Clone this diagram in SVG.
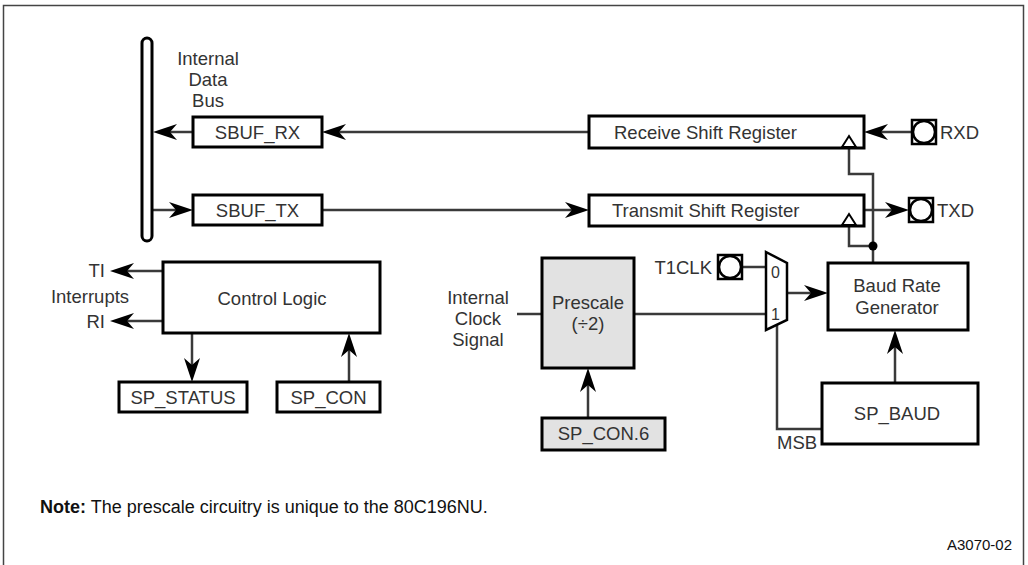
<svg xmlns="http://www.w3.org/2000/svg" width="1028" height="565" viewBox="0 0 1028 565">
<style>
text{font-family:"Liberation Sans",Arial,sans-serif;font-size:18.5px;fill:#333}
.c{text-anchor:middle}
.e{text-anchor:end}
.box{fill:#fff;stroke:#000;stroke-width:3}
.gray{fill:#e2e2e2;stroke:#000;stroke-width:3}
.ln{fill:none;stroke:#3a3a3a;stroke-width:2.5}
.ar{fill:none;stroke:#3a3a3a;stroke-width:2.5;marker-end:url(#ah)}
.pad{fill:#fff;stroke:#000;stroke-width:2.5}
.clk{fill:#fff;stroke:#000;stroke-width:2}
</style>
<defs>
<marker id="ah" viewBox="-25 -9 26 18" refX="-12" refY="0" markerWidth="26" markerHeight="18" markerUnits="userSpaceOnUse" orient="auto">
<path d="M0,0 L-24,-8 L-17,0 L-24,8 Z" fill="#000"/>
</marker>
</defs>
<rect x="3.5" y="5.5" width="1020" height="600" fill="#fff" stroke="#444" stroke-width="1.5"/>

<g id="connectors">
<line class="ar" x1="193" y1="132" x2="165" y2="132"/>
<line class="ar" x1="153" y1="210" x2="181" y2="210"/>
<line class="ar" x1="589" y1="132" x2="334" y2="132"/>
<line class="ar" x1="322" y1="210" x2="577" y2="210"/>
<line class="ar" x1="912" y1="132" x2="876" y2="132"/>
<line class="ar" x1="864" y1="210" x2="897" y2="210"/>
<line class="ar" x1="163" y1="271" x2="122" y2="271"/>
<line class="ar" x1="163" y1="321" x2="122" y2="321"/>
<line class="ar" x1="192" y1="333" x2="192" y2="370"/>
<line class="ar" x1="349" y1="382" x2="349" y2="345"/>
<line class="ar" x1="588" y1="418" x2="588" y2="380"/>
<line class="ar" x1="787" y1="293" x2="816" y2="293"/>
<line class="ar" x1="895" y1="383" x2="895" y2="342"/>
<line class="ln" x1="517" y1="314" x2="542" y2="314"/>
<line class="ln" x1="634" y1="314" x2="766" y2="314"/>
<line class="ln" x1="742" y1="267" x2="766" y2="267"/>
<polyline class="ln" points="777,325 777,429 822,429"/>
<polyline class="ln" points="873,263 873,174 849,174 849,148"/>
<polyline class="ln" points="873,246 849,246 849,226"/>
<circle cx="873" cy="246" r="4.5" fill="#000"/>
</g>

<g id="bus">
<rect x="142" y="38" width="10" height="203" rx="5" class="box"/>
<text class="c" x="208" y="65">Internal</text>
<text class="c" x="208" y="86">Data</text>
<text class="c" x="208" y="107">Bus</text>
</g>
<g id="sbuf_rx"><rect class="box" x="193" y="117" width="129" height="30"/><text class="c" x="257.5" y="139">SBUF_RX</text></g>
<g id="sbuf_tx"><rect class="box" x="193" y="195" width="129" height="30"/><text class="c" x="257.5" y="217">SBUF_TX</text></g>
<g id="rsr"><rect class="box" x="589" y="116" width="275" height="32"/><text x="614" y="139">Receive Shift Register</text>
<polygon class="clk" points="842,147 849,136 856,147"/></g>
<g id="tsr"><rect class="box" x="589" y="195" width="275" height="31"/><text x="612" y="217">Transmit Shift Register</text>
<polygon class="clk" points="842,225 849,214 856,225"/></g>
<g id="rxd"><rect class="pad" x="912" y="120" width="24" height="24"/><circle class="pad" cx="924" cy="132" r="11"/><text x="940" y="139">RXD</text></g>
<g id="txd"><rect class="pad" x="909" y="198" width="24" height="24"/><circle class="pad" cx="921" cy="210" r="11"/><text x="937" y="217">TXD</text></g>

<g id="control"><rect class="box" x="163" y="262" width="217" height="71"/><text class="c" x="272" y="305">Control Logic</text></g>
<g id="interrupts">
<text class="e" x="105" y="277">TI</text>
<text class="c" x="90" y="303">Interrupts</text>
<text class="e" x="105" y="328">RI</text>
</g>
<g id="sp_status"><rect class="box" x="119" y="382" width="128" height="30"/><text class="c" x="183" y="404">SP_STATUS</text></g>
<g id="sp_con"><rect class="box" x="277" y="382" width="103" height="30"/><text class="c" x="328.5" y="404">SP_CON</text></g>

<g id="clocksig">
<text class="c" x="478" y="304">Internal</text>
<text class="c" x="478" y="325">Clock</text>
<text class="c" x="478" y="346">Signal</text>
</g>
<g id="prescale"><rect class="gray" x="542" y="258" width="92" height="110"/><text class="c" x="588" y="309">Prescale</text><text class="c" x="588" y="330">(÷2)</text></g>
<g id="sp_con6"><rect class="gray" x="542" y="418" width="123" height="32"/><text class="c" x="603.5" y="440">SP_CON.6</text></g>

<g id="t1clk"><text class="e" x="712" y="274">T1CLK</text><rect class="pad" x="718" y="255" width="24" height="24"/><circle class="pad" cx="730" cy="267" r="11"/></g>
<g id="mux"><polygon points="766,252 787,263 787,320 766,330" fill="#fff" stroke="#000" stroke-width="2.5"/>
<text x="771" y="278" style="font-size:16px">0</text><text x="771" y="320" style="font-size:16px">1</text></g>
<g id="brg"><rect class="box" x="828" y="263" width="140" height="67"/><text class="c" x="897" y="292">Baud Rate</text><text class="c" x="897" y="314">Generator</text></g>
<g id="sp_baud"><rect class="box" x="822" y="383" width="156" height="61"/><text class="c" x="897" y="420">SP_BAUD</text><text x="777" y="449">MSB</text></g>

<g id="note"><text x="40" y="513" style="font-size:18px;fill:#111"><tspan font-weight="bold">Note:</tspan> The prescale circuitry is unique to the 80C196NU.</text></g>
<g id="ref"><text class="e" x="1012" y="550" style="font-size:15px;fill:#111">A3070-02</text></g>
</svg>
